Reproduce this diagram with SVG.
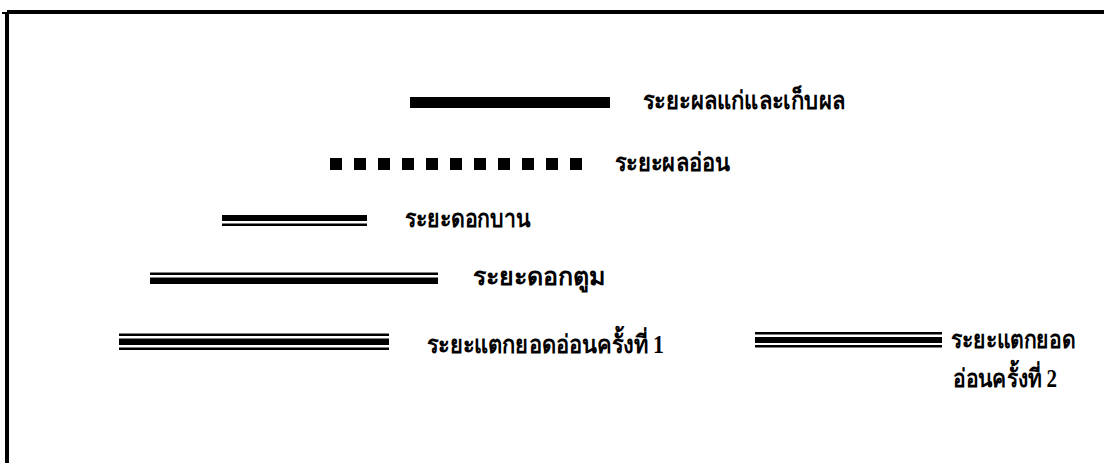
<svg xmlns="http://www.w3.org/2000/svg" width="1104" height="463" viewBox="0 0 1104 463">
  <style>
    .lbl { font-family: "Liberation Serif", "Noto Sans", serif; font-size: 25px; font-weight: bold; fill: #000; }
    .bar { fill: #000; }
  </style>
  <rect width="1104" height="463" fill="#fff"/>

  <!-- frame -->
  <g id="frame">
    <rect x="7" y="10" width="1097" height="4" class="bar"/>
    <rect x="2" y="12" width="6" height="2" class="bar"/>
    <rect x="5" y="12" width="4" height="451" class="bar"/>
  </g>

  <!-- legend line samples -->
  <g id="connectors">
    <!-- mature fruit / harvest: solid thick -->
    <rect x="410" y="97" width="200" height="11" class="bar"/>
    <!-- young fruit: square dashes -->
    <g id="dashes">
      <rect x="330" y="158" width="12" height="12" class="bar"/>
      <rect x="354" y="158" width="12" height="12" class="bar"/>
      <rect x="378" y="158" width="12" height="12" class="bar"/>
      <rect x="402" y="158" width="12" height="12" class="bar"/>
      <rect x="426" y="158" width="12" height="12" class="bar"/>
      <rect x="450" y="158" width="12" height="12" class="bar"/>
      <rect x="474" y="158" width="12" height="12" class="bar"/>
      <rect x="498" y="158" width="12" height="12" class="bar"/>
      <rect x="522" y="158" width="12" height="12" class="bar"/>
      <rect x="546" y="158" width="12" height="12" class="bar"/>
      <rect x="570" y="158" width="12" height="12" class="bar"/>
    </g>
    <!-- flowering: thick over thin -->
    <rect x="222" y="215" width="145" height="6" class="bar"/>
    <rect x="222" y="223.5" width="145" height="2.5" class="bar"/>
    <!-- flower bud: thin over thick -->
    <rect x="150" y="272.5" width="288" height="2.5" class="bar"/>
    <rect x="150" y="277.5" width="288" height="6.5" class="bar"/>
    <!-- flush 1: thin / thick / thin -->
    <rect x="119" y="333.5" width="270" height="2.5" class="bar"/>
    <rect x="119" y="338.5" width="270" height="6.5" class="bar"/>
    <rect x="119" y="347.5" width="270" height="2.5" class="bar"/>
    <!-- flush 2: thin / thick / thin -->
    <rect x="755" y="332" width="187" height="2.5" class="bar"/>
    <rect x="755" y="337" width="187" height="6" class="bar"/>
    <rect x="755" y="345" width="187" height="2.5" class="bar"/>
  </g>

  <g id="label-harvest"><text class="lbl" x="643" y="109" textLength="202" lengthAdjust="spacingAndGlyphs">ระยะผลแก่และเก็บผล</text></g>
  <g id="label-young-fruit"><text class="lbl" x="615" y="171" textLength="115" lengthAdjust="spacingAndGlyphs">ระยะผลอ่อน</text></g>
  <g id="label-flowering"><text class="lbl" x="405" y="227" textLength="125" lengthAdjust="spacingAndGlyphs">ระยะดอกบาน</text></g>
  <g id="label-bud"><text class="lbl" x="473" y="285" textLength="132" lengthAdjust="spacingAndGlyphs">ระยะดอกตูม</text></g>
  <g id="label-flush1"><text class="lbl" x="427" y="353" textLength="237" lengthAdjust="spacingAndGlyphs">ระยะแตกยอดอ่อนครั้งที่ 1</text></g>
  <g id="label-flush2">
    <text class="lbl" x="951" y="348" textLength="124" lengthAdjust="spacingAndGlyphs">ระยะแตกยอด</text>
    <text class="lbl" x="953" y="387" textLength="104" lengthAdjust="spacingAndGlyphs">อ่อนครั้งที่ 2</text>
  </g>
</svg>
